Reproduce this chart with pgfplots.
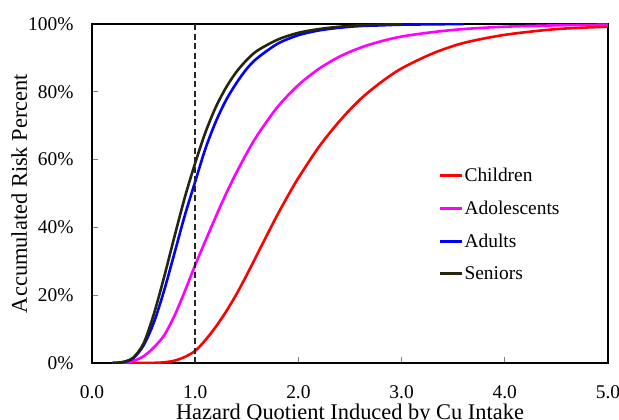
\documentclass[border=0pt]{standalone}
\usepackage{fontspec}
\setmainfont{Liberation Serif}
\usepackage{pgfplots}
\pgfplotsset{compat=1.18}
\definecolor{childc}{RGB}{255,0,0}
\definecolor{adolc}{RGB}{255,0,255}
\definecolor{adultc}{RGB}{0,0,255}
\definecolor{seniorc}{RGB}{38,38,13}
\begin{document}
\begin{tikzpicture}
\begin{axis}[
    at={(0,0)}, anchor=south west,
    scale only axis, width=516bp, height=339bp,
    xmin=0, xmax=5, ymin=0, ymax=100,
    xtick={0,1,2,3,4,5}, xticklabels={0.0,1.0,2.0,3.0,4.0,5.0},
    ytick={0,20,40,60,80,100}, yticklabels={0\%,20\%,40\%,60\%,80\%,100\%},
    tick pos=left, tick align=inside, major tick length=6bp,
    tick style={black!50, line width=0.8bp},
    axis line style={line width=2.5bp},
    ticklabel style={font=\fontsize{19.5}{22}\selectfont},
    xticklabel style={yshift=-19bp},
    yticklabel style={xshift=-15bp},
    xlabel={Hazard Quotient Induced by Cu Intake},
    ylabel={Accumulated Risk Percent},
    label style={font=\fontsize{22.5}{26}\selectfont},
    xlabel style={at={(axis description cs:0.5,-0.1681)}, anchor=base},
    ylabel style={at={(axis description cs:-0.126,0.5)}, anchor=base},
    legend style={draw=none, fill=none, inner sep=0pt,
        at={(axis description cs:0.672,0.578)}, anchor=north west,
        font=\fontsize{19.5}{22}\selectfont, row sep=15.8bp,
        nodes={inner sep=1bp}},
    legend cell align=left,
    legend image code/.code={\draw[#1] (0bp,0bp) -- (22bp,0bp);},
    every axis plot/.append style={line width=2.6bp},
]
\addplot[childc, smooth] coordinates {
(0.3,0) (0.4,0) (0.5,0.02) (0.6,0.05) (0.7,0.2) (0.8,0.7) (0.9,1.8) (1.0,3.6)
(1.1,6.8) (1.2,10.7) (1.3,15.2) (1.4,20.3) (1.5,26.0) (1.6,32.0) (1.7,38.0)
(1.8,43.9) (1.9,49.4) (2.0,54.6) (2.2,63.8) (2.4,71.4) (2.6,77.8) (2.8,82.8)
(3.0,86.9) (3.3,91.3) (3.6,94.4) (4.0,96.8) (4.5,98.5) (5.0,99.2)};
\addlegendentry{Children}
\addplot[adolc, smooth] coordinates {
(0.2,0) (0.3,0.1) (0.4,0.6) (0.5,2.0) (0.6,4.6) (0.7,8.2) (0.8,14.0) (0.9,21.2)
(1.0,28.9) (1.1,36.1) (1.2,43.2) (1.3,50.0) (1.4,56.2) (1.5,61.9) (1.6,67.1)
(1.8,75.6) (2.0,82.0) (2.2,86.8) (2.4,90.4) (2.6,93.0) (2.8,94.9) (3.0,96.3)
(3.3,97.6) (3.6,98.5) (4.0,99.2) (4.5,99.6) (5.0,99.8)};
\addlegendentry{Adolescents}
\addplot[adultc, smooth] coordinates {
(0.2,0) (0.3,0.2) (0.4,1.4) (0.5,5.2) (0.6,12.0) (0.7,21.5) (0.8,32.5) (0.9,43.6)
(1.0,53.5) (1.1,63.3) (1.2,71.2) (1.3,77.6) (1.4,82.6) (1.5,86.8) (1.6,89.9)
(1.8,94.2) (2.0,96.7) (2.2,98.1) (2.4,98.9) (2.6,99.4) (2.8,99.6) (3.0,99.8)
(3.3,99.9) (3.6,100)};
\addlegendentry{Adults}
\addplot[seniorc, smooth] coordinates {
(0.2,0) (0.3,0.3) (0.4,1.6) (0.5,5.8) (0.6,14.5) (0.7,25.5) (0.8,37.4) (0.9,48.9)
(1.0,59.0) (1.1,68.1) (1.2,75.5) (1.3,81.3) (1.4,85.9) (1.5,89.4) (1.6,92.1)
(1.8,95.4) (2.0,97.4) (2.2,98.5) (2.4,99.2) (2.6,99.6) (2.8,99.8) (3.0,100)};
\addlegendentry{Seniors}
\addplot[black!85, line width=1.8bp, dash pattern=on 6bp off 3.5bp, forget plot]
    coordinates {(1,0) (1,100)};
\end{axis}
\pgfresetboundingbox
\path[use as bounding box] (-92bp,-57bp) rectangle (527bp,363bp);
\end{tikzpicture}
\end{document}
